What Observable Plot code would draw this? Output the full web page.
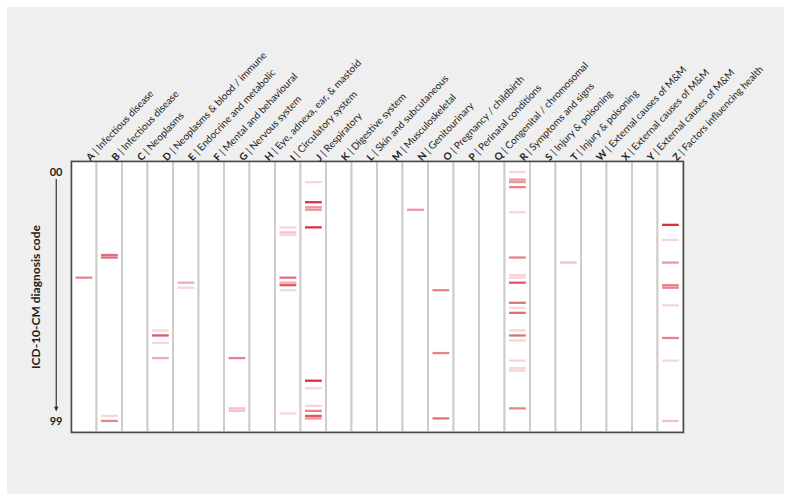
<!DOCTYPE html>
<html><head><meta charset="utf-8">
<script src="https://cdn.jsdelivr.net/npm/d3@7"></script>
<script src="https://cdn.jsdelivr.net/npm/@observablehq/plot@0.6"></script>
<style>
html,body{margin:0;padding:0;background:#fff;}
#wrap{position:relative;width:791px;height:501px;overflow:hidden;}
#bg{position:absolute;left:7px;top:7px;width:777px;height:487px;background:#eeefee;}
#chart{position:absolute;left:0;top:0;}
</style></head><body>
<div id="wrap"><div id="bg"></div><div id="chart"></div></div>
<script>
// ICD-10 chapter letters (columns) and their names
const letters = ["A","B","C","D","E","F","G","H","I","J","K","L","M","N","O","P","Q","R","S","T","W","X","Y","Z"];
const chapterNames = [
  "Infectious disease","Infectious disease","Neoplasms","Neoplasms & blood / immune",
  "Endocrine and metabolic","Mental and behavioural","Nervous system","Eye, adnexa, ear, & mastoid",
  "Circulatory system","Respiratory","Digestive system","Skin and subcutaneous",
  "Musculoskeletal","Genitourinary","Pregnancy / childbirth","Perinatal conditions",
  "Congenital / chromosomal","Symptoms and signs","Injury & poisoning","Injury & poisoning",
  "External causes of M&M","External causes of M&M","External causes of M&M","Factors influencing health"
];

// Observed diagnosis codes: chapter letter, two-digit code, intensity (1 = faint … 5 = strong)
const stripeLetter = [
  "A",
  "B","B","B","B",
  "D","D","D","D",
  "E","E",
  "G","G","G",
  "I","I","I","I","I","I","I","I",
  "J","J","J","J","J","J","J","J","J","J","J",
  "N",
  "O","O","O",
  "R","R","R","R","R","R","R","R","R","R","R","R","R","R","R","R","R","R","R",
  "T",
  "Z","Z","Z","Z","Z","Z","Z","Z","Z"
];
const stripeCode = [
  42,
  33,34,97,99,
  63,65,68,74,
  44,46,
  74,94,95,
  22,24,25,42,44,45,47,96,
  4,12,14,15,22,83,86,93,95,97,98,
  15,
  47,72,98,
  0,3,4,6,16,34,41,42,44,52,54,56,63,65,67,75,78,79,94,
  36,
  21,27,36,45,46,53,66,75,99
];
const stripeWeight = [
  3,
  3.5,3.5,1,3,
  1,4,1,2,
  2,1,
  3,1.5,1.5,
  1,1.5,1,3.5,2,4,1,1,
  1,5,2.5,2.5,5,5,1,1,3,4,2.5,
  2.5,
  3,3,3.5,
  1,2.5,2.5,3,1,3,1,1,4,3.5,1,3.5,1,3.5,1,1,1,1,3,
  1.5,
  5,1,2.5,3,3,1,3,1,1.5
];
const yTicks = [0, 99];
const yTitle = "ICD-10-CM diagnosis code";

const yDomain = [-4.4, 103.4];
const columns = letters.map((l, i) => ({letter: l, label: `${l} | ${chapterNames[i]}`}));
const stripes = stripeCode.map((c, i) => ({letter: stripeLetter[i], code: c, weight: stripeWeight[i]}));

const triangleDown = {
  draw(context, size) {
    const w = Math.sqrt(size);
    context.moveTo(-w / 2, -w / 2);
    context.lineTo(w / 2, -w / 2);
    context.lineTo(0, w / 2);
    context.closePath();
  }
};

const chart = Plot.plot({
  width: 791,
  height: 501,
  marginLeft: 71,
  marginRight: 108,
  marginTop: 161,
  marginBottom: 69,
  style: {background: "transparent", fontFamily: "Lato, 'Open Sans', sans-serif", color: "#222"},
  x: {type: "band", domain: letters, padding: 0, round: false, axis: null},
  y: {domain: yDomain, reverse: true, axis: null},
  opacity: {domain: [0, 5], range: [0, 0.92]},
  marks: [
    Plot.barY(columns, {x: "letter", y1: yDomain[0], y2: yDomain[1], fill: "white", stroke: "#cdcdcd", strokeWidth: 2}),
    Plot.barY(stripes, {
      x: "letter",
      y1: d => d.code - 0.45,
      y2: d => d.code + 0.45,
      fill: "#d21f2c",
      fillOpacity: "weight",
      insetLeft: 4.5,
      insetRight: 4.2
    }),
    Plot.frame({stroke: "#4a4a4a", strokeWidth: 1.5}),
    Plot.text(columns, {
      x: "letter",
      frameAnchor: "top",
      text: "label",
      rotate: -46.5,
      textAnchor: "start",
      dx: 1,
      dy: -5,
      fontSize: 10,
      fill: "#1e1e1e"
    }),
    Plot.text(yTicks, {
      y: d => d,
      text: d => d3.format("02")(d),
      frameAnchor: "left",
      dx: -15.5,
      textAnchor: "middle",
      fontWeight: "bold",
      fontSize: 11,
      fill: "#222"
    }),
    Plot.ruleX([letters[0]], {
      x: d => d,
      y1: yTicks[0],
      y2: yTicks[1],
      dx: -28,
      insetTop: 7,
      insetBottom: 14,
      stroke: "#333",
      strokeWidth: 1.2
    }),
    Plot.dot([letters[0]], {
      x: d => d,
      y: yTicks[1],
      dx: -28,
      dy: -12.3,
      r: 2.6,
      symbol: triangleDown,
      fill: "#333",
      stroke: "none"
    }),
    Plot.text([yTitle], {
      text: d => d,
      frameAnchor: "left",
      textAnchor: "middle",
      rotate: -90,
      dx: -35,
      fontWeight: "bold",
      fontSize: 12,
      fill: "#222"
    })
  ]
});

// Make the chapter letter bold in each column label
chart.querySelectorAll("text").forEach(t => {
  const s = t.textContent;
  const m = /^([A-Z]) \| (.*)$/.exec(s);
  if (m && t.children.length === 0) {
    t.textContent = "";
    const b = document.createElementNS("http://www.w3.org/2000/svg", "tspan");
    b.setAttribute("font-weight", "bold");
    b.textContent = m[1];
    const r = document.createElementNS("http://www.w3.org/2000/svg", "tspan");
    r.textContent = " | " + m[2];
    t.appendChild(b);
    t.appendChild(r);
  }
});

document.getElementById("chart").appendChild(chart);
</script>
</body></html>
